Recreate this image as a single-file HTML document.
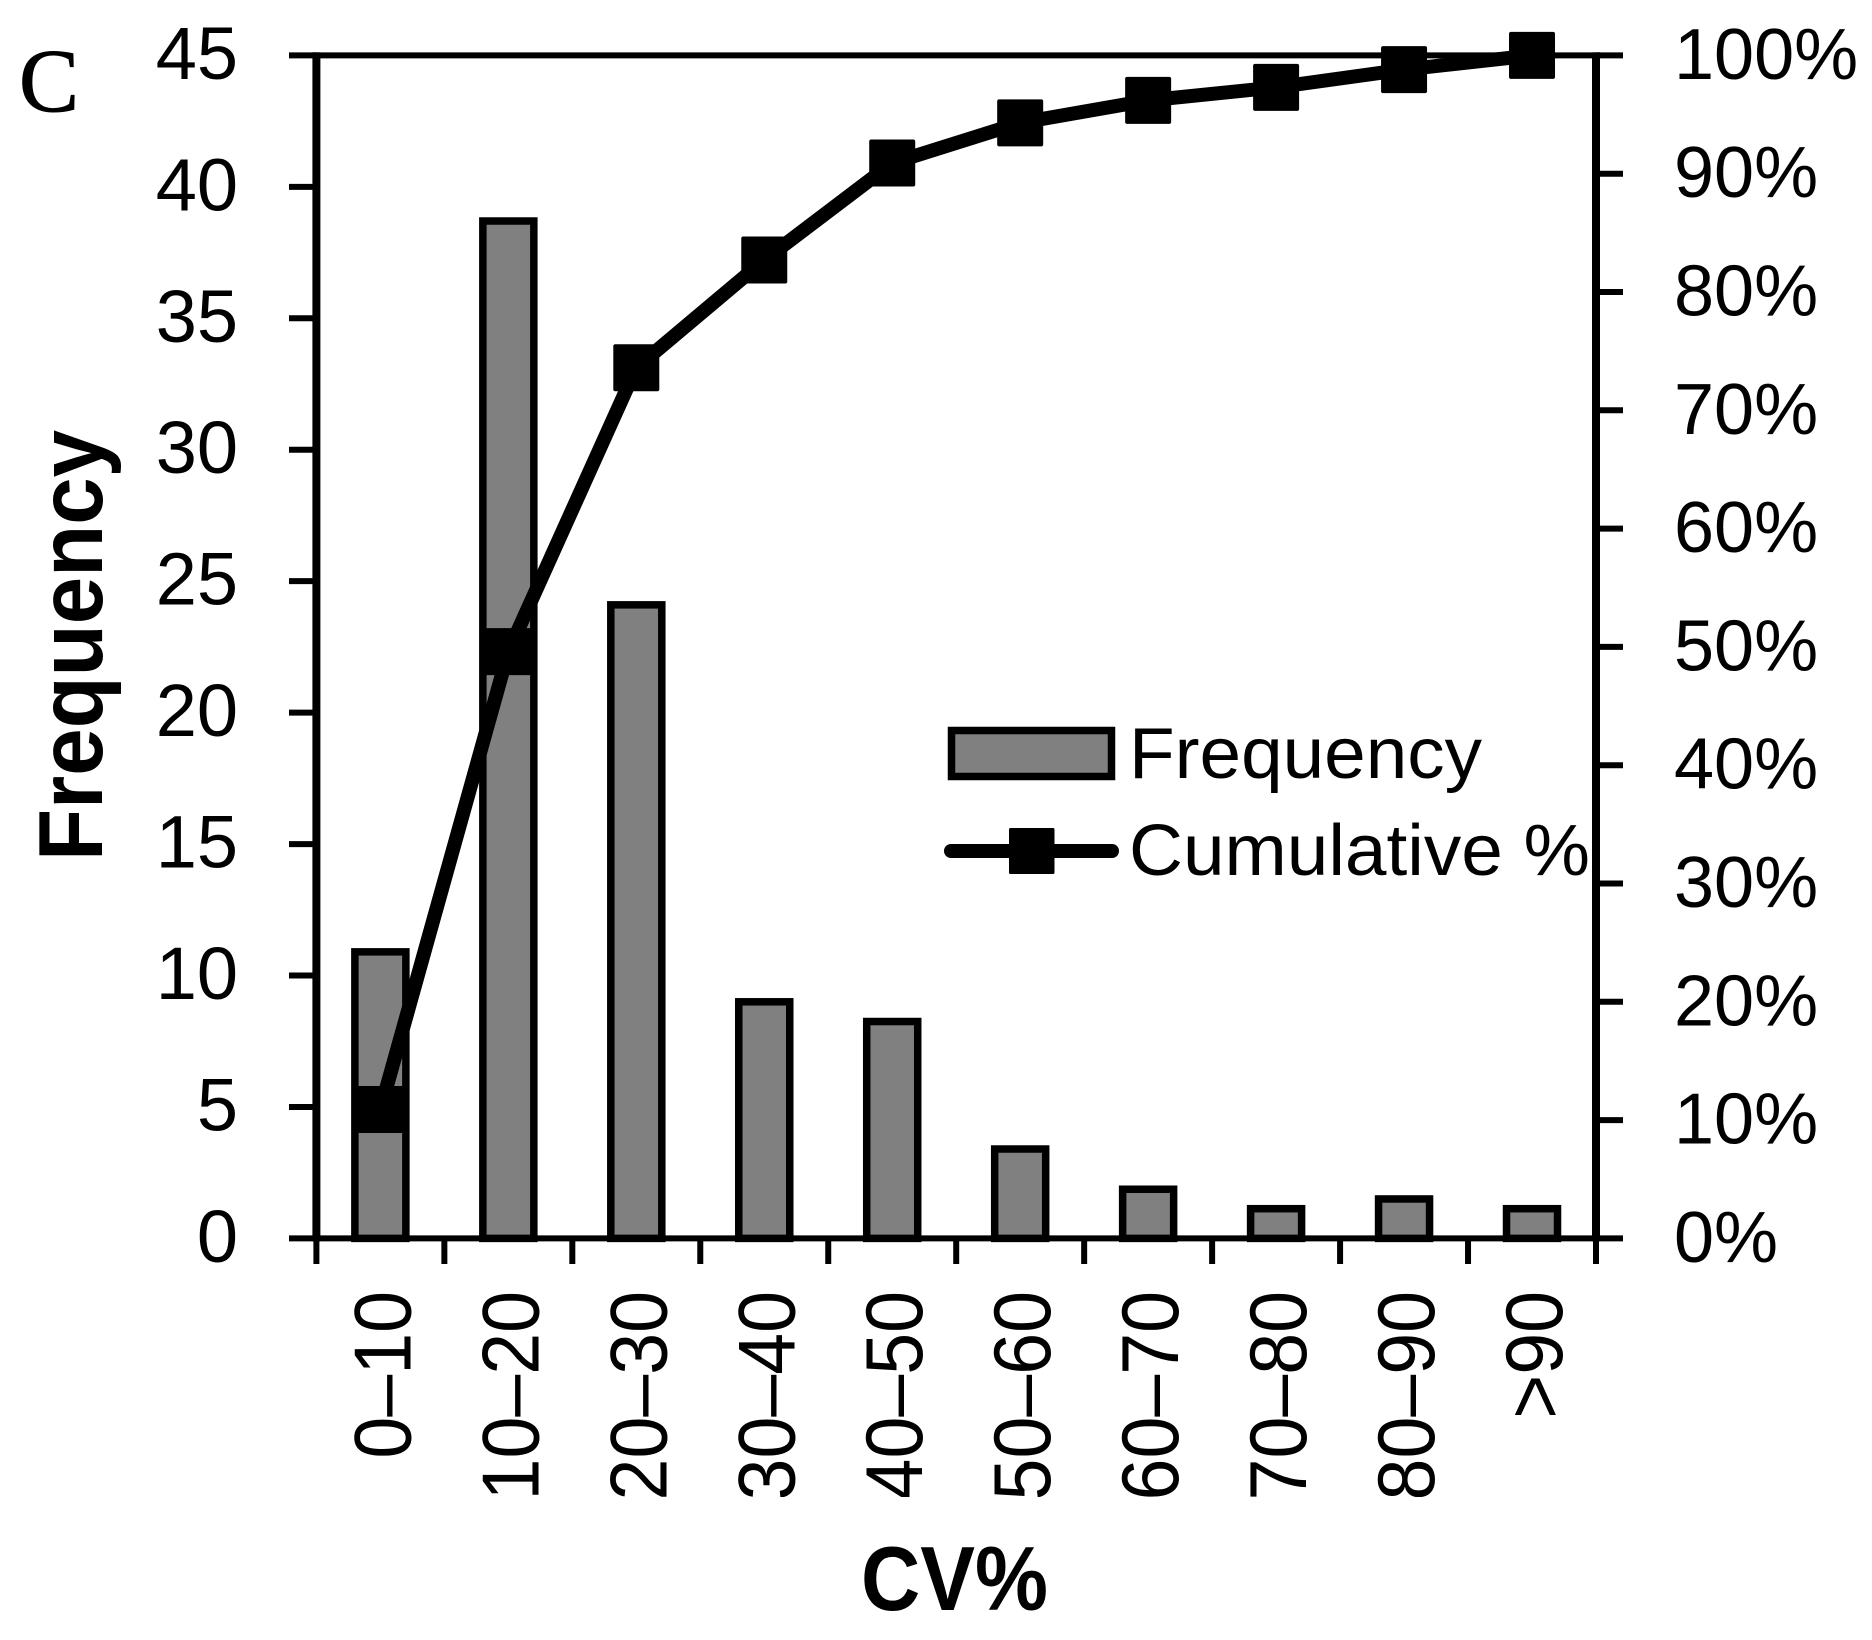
<!DOCTYPE html>
<html lang="en">
<head>
<meta charset="utf-8">
<title>CV% frequency chart</title>
<style>
html,body{margin:0;padding:0;background:#fff;width:1872px;height:1640px;overflow:hidden}
svg{display:block}
text{fill:#000;font-family:"Liberation Sans",sans-serif}
</style>
</head>
<body>
<svg id="chart" xmlns="http://www.w3.org/2000/svg" width="1872" height="1640" viewBox="0 0 1872 1640">
  <defs>
    <clipPath id="x-label-clip"><rect x="300" y="1280" width="1300" height="217"></rect></clipPath>
  </defs>
  <rect x="0" y="0" width="1872" height="1640" fill="#fff"></rect>
  <text x="19" y="111" font-size="90" stroke="#000" stroke-width="1" style="font-family:'Liberation Serif',serif">C</text>
  <g id="bars"></g>
  <g id="axes"></g>
  <g id="line-layer"></g>
  <g id="y-left-labels"></g>
  <g id="y-right-labels"></g>
  <g id="x-labels" clip-path="url(#x-label-clip)"></g>
  <text transform="translate(102,861) rotate(-90)" font-size="91" font-weight="700" textLength="431" lengthAdjust="spacingAndGlyphs">Frequency</text>
  <text x="861" y="1610" font-size="91" font-weight="700" textLength="187" lengthAdjust="spacingAndGlyphs">CV%</text>
  <g>
    <rect x="951.5" y="730.5" width="160" height="46" fill="#808080" stroke="#000" stroke-width="7.5"></rect>
    <text x="1129" y="778" font-size="72" textLength="353" lengthAdjust="spacingAndGlyphs">Frequency</text>
    <line x1="951" y1="851" x2="1112" y2="851" stroke="#000" stroke-width="14" stroke-linecap="round"></line>
    <rect x="1009" y="828" width="45.5" height="46" rx="1.5" fill="#000"></rect>
    <text x="1129" y="875" font-size="72" textLength="461" lengthAdjust="spacingAndGlyphs">Cumulative %</text>
  </g>
</svg>
<script>
const categories = ["0–10","10–20","20–30","30–40","40–50","50–60","60–70","70–80","80–90",">90"];
const frequencyValues = [10.9,38.7,24.1,9.0,8.25,3.4,1.87,1.13,1.5,1.13];
const cumulativeValues = [10.9,49.6,73.6,82.7,90.9,94.3,96.2,97.3,98.8,100];
const leftTicks = [0,5,10,15,20,25,30,35,40,45];
const rightTicks = [0,10,20,30,40,50,60,70,80,90,100];

const SVGNS = "http://www.w3.org/2000/svg";
const plotLeft = 316.4, plotRight = 1596, plotTop = 55.4, plotBottom = 1238.4;
const leftMax = 45, rightMax = 100;

function xBand(i){ return plotLeft + (plotRight - plotLeft) * i / categories.length; }
function xCenter(i){ return xBand(i + 0.5); }
function yLeft(v){ return plotBottom - (plotBottom - plotTop) * v / leftMax; }
function yRight(v){ return plotBottom - (plotBottom - plotTop) * v / rightMax; }

function make(tag, attrs, parent){
  const el = document.createElementNS(SVGNS, tag);
  for (const k in attrs) el.setAttribute(k, attrs[k]);
  parent.appendChild(el);
  return el;
}

const barsG = document.getElementById("bars");
const axesG = document.getElementById("axes");
const lineG = document.getElementById("line-layer");
const leftG = document.getElementById("y-left-labels");
const rightG = document.getElementById("y-right-labels");
const xG = document.getElementById("x-labels");

frequencyValues.forEach(function(v, i){
  const top = yLeft(v);
  const bar = make("rect", {x: xCenter(i) - 25.5, y: top, width: 51, height: plotBottom - top, fill: "#808080", stroke: "#000", "stroke-width": 7.5}, barsG);
  
  
});

const topLine = make("line", {x1: plotLeft - 4, y1: plotTop, x2: plotRight + 4, y2: plotTop, stroke: "#000", "stroke-width": 6}, axesG);


const baseLine = make("line", {x1: plotLeft - 4, y1: plotBottom, x2: plotRight + 4, y2: plotBottom, stroke: "#000", "stroke-width": 6}, axesG);


const leftAxis = make("line", {x1: plotLeft, y1: plotTop - 3, x2: plotLeft, y2: plotBottom + 3, stroke: "#000", "stroke-width": 8}, axesG);


const rightAxis = make("line", {x1: plotRight, y1: plotTop - 3, x2: plotRight, y2: plotBottom + 3, stroke: "#000", "stroke-width": 8}, axesG);



leftTicks.forEach(function(v){
  const y = yLeft(v);
  const tick = make("line", {x1: 289, y1: y, x2: plotLeft, y2: y, stroke: "#000", "stroke-width": 6}, axesG);
  
  
  const label = make("text", {x: 238, y: y + 23.5, "font-size": 74, "text-anchor": "end"}, leftG);
  
  
  label.textContent = String(v);
});

rightTicks.forEach(function(v){
  const y = yRight(v);
  const tick = make("line", {x1: plotRight, y1: y, x2: 1623, y2: y, stroke: "#000", "stroke-width": 6}, axesG);
  
  
  const label = make("text", {x: 1674, y: y + 23.5, "font-size": 72}, rightG);
  
  
  label.textContent = v + "%";
});

for (let i = 0; i <= categories.length; i++) {
  const tick = make("line", {x1: xBand(i), y1: plotBottom, x2: xBand(i), y2: 1264, stroke: "#000", "stroke-width": 6}, axesG);
  
  
}

categories.forEach(function(c, i){
  const label = make("text", {transform: "translate(" + (xCenter(i) + 30) + ",1291) rotate(-90) scale(0.93,1)", "font-size": 81, "text-anchor": "end"}, xG);
  
  
  label.textContent = c;
});

const points = cumulativeValues.map(function(v, i){ return xCenter(i) + "," + yRight(v); }).join(" ");
const polyline = make("polyline", {points: points, fill: "none", stroke: "#000", "stroke-width": 14, "stroke-linejoin": "round", "stroke-linecap": "round"}, lineG);



cumulativeValues.forEach(function(v, i){
  const marker = make("rect", {x: xCenter(i) - 23, y: yRight(v) - 23.5, width: 46, height: 47, rx: 2, fill: "#000"}, lineG);
  
  
});
</script>
</body>
</html>
